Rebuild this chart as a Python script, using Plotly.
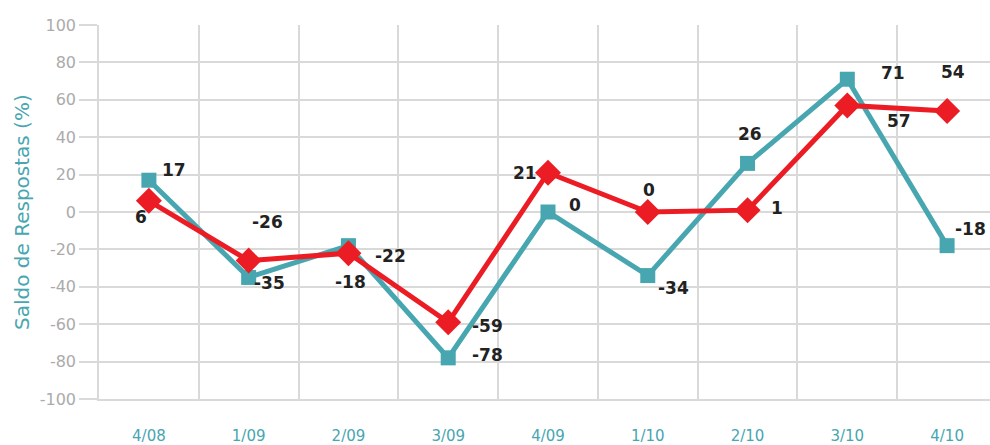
import plotly.graph_objects as go

# Quarters on the x axis
quarters = ["4/08", "1/09", "2/09", "3/09", "4/09", "1/10", "2/10", "3/10", "4/10"]

# Balance of answers (%) for the two series
teal_values = [17, -35, -18, -78, 0, -34, 26, 71, -18]
red_values = [6, -26, -22, -59, 21, 0, 1, 57, 54]

y_ticks = list(range(-100, 101, 20))
y_tick_labels = [str(v) for v in y_ticks]  # plain hyphen, not unicode minus

TEAL = "#47a6b0"
RED = "#ec1c24"

# label offsets in pixels (dx, dy) relative to each point
teal_offsets = [(25, 10), (21, -6), (2, -36), (39, 3), (27, 7), (26, -12), (2, 29), (46, 6), (23, 17)]
red_offsets = [(-8, -16), (19, 39), (42, -3), (39, -4), (-23, 0), (1, 22), (29, 2), (52, -16), (6, 39)]

fig = go.Figure()

fig.add_trace(go.Scatter(
    x=quarters, y=teal_values, mode="lines+markers",
    line=dict(color=TEAL, width=5),
    marker=dict(symbol="square", size=15, color=TEAL),
    hoverinfo="x+y", showlegend=False,
))
fig.add_trace(go.Scatter(
    x=quarters, y=red_values, mode="lines+markers",
    line=dict(color=RED, width=5),
    marker=dict(symbol="diamond", size=20, color=RED),
    hoverinfo="x+y", showlegend=False,
))

# data labels (bold)
for values, offsets in [(teal_values, teal_offsets), (red_values, red_offsets)]:
    for q, v, (dx, dy) in zip(quarters, values, offsets):
        fig.add_annotation(
            x=q, y=v, text="<b>" + str(v) + "</b>", showarrow=False,
            xshift=dx, yshift=dy,
            font=dict(size=17, color="#222222", family="DejaVu Sans"),
        )

# y axis title as a rotated annotation so the margins stay fixed
fig.add_annotation(
    text="Saldo de Respostas (%)", xref="paper", yref="paper",
    x=0, y=0.5, xanchor="center", yanchor="middle", xshift=-77,
    textangle=-90, showarrow=False,
    font=dict(size=20, color=TEAL, family="DejaVu Sans"),
)

fig.update_layout(
    width=990, height=445,
    margin=dict(l=99, r=0, t=25, b=46),
    paper_bgcolor="white", plot_bgcolor="white",
    font=dict(family="DejaVu Sans, sans-serif"),
)

fig.update_xaxes(
    type="category", range=[-0.5, 8.43], automargin=False,
    tickson="boundaries", showgrid=True, gridcolor="#d9d9d9", gridwidth=1.5,
    ticks="", ticklabelstandoff=22,
    tickfont=dict(size=15, color=TEAL),
    showline=True, linecolor="#d9d9d9", linewidth=1.5,
    zeroline=False,
)
fig.update_yaxes(
    range=[-100, 100], tickvals=y_ticks, ticktext=y_tick_labels, automargin=False,
    showgrid=True, gridcolor="#d9d9d9", gridwidth=1.5,
    ticks="outside", ticklen=18, tickcolor="#d9d9d9", tickwidth=1.5,
    tickfont=dict(size=16, color="#ababab"),
    showline=True, linecolor="#d9d9d9", linewidth=1.5,
    zeroline=False,
)

# drop the default body margin so the figure fills the window exactly
fig.write_html(
    "out.html",
    config={"displayModeBar": False},
    post_script="document.body.style.margin='0px';document.body.style.overflow='hidden';",
)
